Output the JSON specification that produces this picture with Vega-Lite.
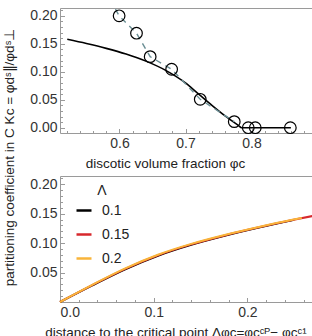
{
  "$schema": "https://vega.github.io/schema/vega-lite/v6.json",
  "padding": {"left": 1, "top": 2, "right": 1, "bottom": 2},
  "background": "white",
  "config": {
    "font": "Liberation Sans",
    "view": {"stroke": "#9a9a9a", "strokeWidth": 1},
    "axis": {
      "domain": false, "grid": false,
      "labelFont": "Liberation Sans", "labelFontSize": 14, "labelColor": "#333333",
      "titleFont": "Liberation Sans", "titleFontSize": 13.5, "titleFontWeight": "normal", "titleColor": "#222222",
      "tickColor": "#9a9a9a", "tickWidth": 1, "labelOverlap": false
    }
  },
  "datasets": {
    "curveA": [
      {"x": 0.521, "y": 0.158}, {"x": 0.55, "y": 0.1505}, {"x": 0.58, "y": 0.1418}, {"x": 0.61, "y": 0.1316},
      {"x": 0.64, "y": 0.119}, {"x": 0.67, "y": 0.1025}, {"x": 0.70, "y": 0.080}, {"x": 0.72, "y": 0.060},
      {"x": 0.74, "y": 0.040}, {"x": 0.76, "y": 0.021}, {"x": 0.78, "y": 0.004}, {"x": 0.785, "y": 0.0},
      {"x": 0.8595, "y": 0.0}
    ],
    "fitA": [
      {"x": 0.594, "y": 0.212}, {"x": 0.5995, "y": 0.2}, {"x": 0.6258, "y": 0.169}, {"x": 0.6465, "y": 0.127},
      {"x": 0.679, "y": 0.1045}, {"x": 0.7223, "y": 0.0507}, {"x": 0.7738, "y": 0.0108}
    ],
    "pointsA": [
      {"x": 0.5995, "y": 0.2}, {"x": 0.6258, "y": 0.169}, {"x": 0.6465, "y": 0.127}, {"x": 0.679, "y": 0.1045},
      {"x": 0.7223, "y": 0.0507}, {"x": 0.7738, "y": 0.0108}, {"x": 0.795, "y": 0.0}, {"x": 0.8056, "y": 0.0},
      {"x": 0.8587, "y": 0.0}
    ],
    "curveB": [
      {"L": "0.1", "x": 0, "y": 0}, {"L": "0.1", "x": 0.0334, "y": 0.0274}, {"L": "0.1", "x": 0.069, "y": 0.0552},
      {"L": "0.1", "x": 0.1045, "y": 0.0786}, {"L": "0.1", "x": 0.14, "y": 0.0971}, {"L": "0.1", "x": 0.1756, "y": 0.1124},
      {"L": "0.1", "x": 0.211, "y": 0.1259}, {"L": "0.1", "x": 0.25, "y": 0.1395},
      {"L": "0.15", "x": 0, "y": 0}, {"L": "0.15", "x": 0.0334, "y": 0.0278}, {"L": "0.15", "x": 0.069, "y": 0.0559},
      {"L": "0.15", "x": 0.1045, "y": 0.0794}, {"L": "0.15", "x": 0.14, "y": 0.0979}, {"L": "0.15", "x": 0.1756, "y": 0.1131},
      {"L": "0.15", "x": 0.211, "y": 0.1265}, {"L": "0.15", "x": 0.2466, "y": 0.1388}, {"L": "0.15", "x": 0.27, "y": 0.1462},
      {"L": "0.2", "x": 0, "y": 0}, {"L": "0.2", "x": 0.0334, "y": 0.0282}, {"L": "0.2", "x": 0.069, "y": 0.0567},
      {"L": "0.2", "x": 0.1045, "y": 0.0803}, {"L": "0.2", "x": 0.14, "y": 0.0987}, {"L": "0.2", "x": 0.1756, "y": 0.1138},
      {"L": "0.2", "x": 0.211, "y": 0.1271}, {"L": "0.2", "x": 0.2466, "y": 0.1393}, {"L": "0.2", "x": 0.258, "y": 0.1428}
    ]
  },
  "spacing": 43,
  "bounds": "flush",
  "vconcat": [
    {
      "width": 253, "height": 125,
      "encoding": {
        "x": {"field": "x", "type": "quantitative",
          "scale": {"domain": [0.51, 0.893], "nice": false, "zero": false},
          "axis": {
            "values": [0.52,0.54,0.56,0.58,0.6,0.62,0.64,0.66,0.68,0.7,0.72,0.74,0.76,0.78,0.8,0.82,0.84,0.86,0.88],
            "format": ".1f", "labelPadding": 7.5,
            "labelOpacity": {"condition": {"test": "abs(datum.value*10-round(datum.value*10))<0.001", "value": 1}, "value": 0},
            "tickSize": {"condition": {"test": "abs(datum.value*10-round(datum.value*10))<0.001", "value": -4.5}, "value": -2.5},
            "title": "discotic volume fraction φc", "titleX": 105, "titlePadding": 4
          }},
        "y": {"field": "y", "type": "quantitative",
          "scale": {"domain": [-0.0095, 0.214], "nice": false, "zero": false},
          "axis": {
            "values": [0,0.01,0.02,0.03,0.04,0.05,0.06,0.07,0.08,0.09,0.1,0.11,0.12,0.13,0.14,0.15,0.16,0.17,0.18,0.19,0.2,0.21],
            "format": ".2f", "labelPadding": 7.5,
            "labelOpacity": {"condition": {"test": "abs(datum.value*20-round(datum.value*20))<0.001", "value": 1}, "value": 0},
            "tickSize": {"condition": {"test": "abs(datum.value*20-round(datum.value*20))<0.001", "value": -4.5}, "value": -2.5},
            "title": "partitioning coefficient in C Kc = φdˢ∥/φdˢ⊥",
            "titleX": -44, "titleY": 149, "titleAlign": "center"
          }}
      },
      "layer": [
        {
          "data": {"name": "curveA"},
          "mark": {"type": "line", "color": "#000000", "strokeWidth": 1.6, "interpolate": "monotone"}
        },
        {
          "data": {"name": "fitA"},
          "mark": {"type": "line", "color": "#6a8e94", "strokeWidth": 1.4, "strokeDash": [6, 5]}
        },
        {
          "data": {"name": "pointsA"},
          "mark": {"type": "point", "shape": "circle", "filled": false, "color": "#000000", "size": 135, "strokeWidth": 1.2, "opacity": 1}
        },
        {
          "data": {"values": [{}]},
          "mark": {"type": "text", "text": "(a)", "fontSize": 14, "font": "Liberation Sans", "color": "#222222", "align": "center", "baseline": "middle"},
          "encoding": {"x": {"datum": 0.8605, "type": "quantitative"}, "y": {"datum": 0.1925, "type": "quantitative"}}
        }
      ]
    },
    {
      "width": 253, "height": 126,
      "encoding": {
        "x": {"field": "x", "type": "quantitative",
          "scale": {"domain": [0, 0.27], "nice": false, "zero": false},
          "axis": {
            "values": [0,0.02,0.04,0.06,0.08,0.1,0.12,0.14,0.16,0.18,0.2,0.22,0.24,0.26],
            "format": ".1f", "labelPadding": 7.5,
            "labelOpacity": {"condition": {"test": "abs(datum.value*10-round(datum.value*10))<0.001", "value": 1}, "value": 0},
            "tickSize": {"condition": {"test": "abs(datum.value*10-round(datum.value*10))<0.001", "value": -4.5}, "value": -2.5},
            "title": "distance to the critical point Δφc=φcᶜᴾ− φcᶜ¹", "titleX": 115.5, "titlePadding": 4
          }},
        "y": {"field": "y", "type": "quantitative",
          "scale": {"domain": [0, 0.214], "nice": false, "zero": false},
          "axis": {
            "values": [0.01,0.02,0.03,0.04,0.05,0.06,0.07,0.08,0.09,0.1,0.11,0.12,0.13,0.14,0.15,0.16,0.17,0.18,0.19,0.2,0.21],
            "format": ".2f", "labelPadding": 7.5,
            "labelOpacity": {"condition": {"test": "abs(datum.value*20-round(datum.value*20))<0.001", "value": 1}, "value": 0},
            "tickSize": {"condition": {"test": "abs(datum.value*20-round(datum.value*20))<0.001", "value": -4.5}, "value": -2.5},
            "title": null
          }}
      },
      "layer": [
        {
          "data": {"name": "curveB"},
          "mark": {"type": "line", "strokeWidth": 2, "interpolate": "monotone"},
          "encoding": {
            "color": {"field": "L", "type": "nominal",
              "scale": {"domain": ["0.1", "0.15", "0.2"], "range": ["#000000", "#d7282d", "#f9b43a"]},
              "legend": {
                "orient": "none", "legendX": 15, "legendY": 176, "padding": 0,
                "title": "Λ", "titleFont": "Liberation Sans", "titleFontSize": 14, "titleFontWeight": "normal", "titleColor": "#222222",
                "titleAnchor": "middle", "titlePadding": 3.5,
                "labelFont": "Liberation Sans", "labelFontSize": 14, "labelColor": "#222222", "labelOffset": 9,
                "symbolType": "stroke", "symbolSize": 225, "symbolStrokeWidth": 2.5, "rowPadding": 8
              }}
          }
        },
        {
          "data": {"values": [{}]},
          "mark": {"type": "text", "text": "(b)", "fontSize": 14, "font": "Liberation Sans", "color": "#222222", "align": "center", "baseline": "middle"},
          "encoding": {"x": {"datum": 0.2476, "type": "quantitative"}, "y": {"datum": 0.1885, "type": "quantitative"}}
        },
        {
          "data": {"values": [{}]},
          "mark": {"type": "text", "text": "q", "fontSize": 14, "fontStyle": "italic", "font": "Liberation Sans", "color": "#222222", "align": "right", "baseline": "middle"},
          "encoding": {"x": {"datum": 0.1852, "type": "quantitative"}, "y": {"datum": 0.0476, "type": "quantitative"}}
        },
        {
          "data": {"values": [{}]},
          "mark": {"type": "text", "text": "/Λ = 0.1", "fontSize": 14, "font": "Liberation Sans", "color": "#222222", "align": "left", "baseline": "middle"},
          "encoding": {"x": {"datum": 0.1852, "type": "quantitative"}, "y": {"datum": 0.0476, "type": "quantitative"}}
        }
      ]
    }
  ]
}
